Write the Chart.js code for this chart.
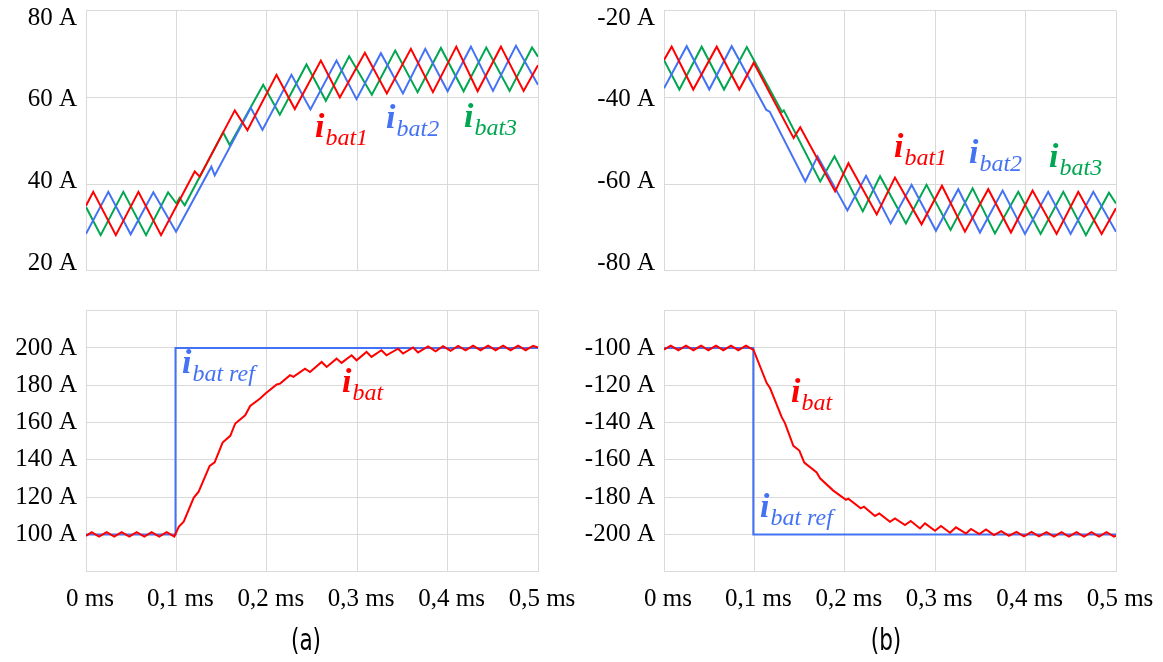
<!DOCTYPE html>
<html>
<head>
<meta charset="utf-8">
<script src="https://cdn.jsdelivr.net/npm/chart.js@4.4.1/dist/chart.umd.min.js"></script>
<style>
  html, body { margin: 0; padding: 0; background: #fff; }
  #wrap { position: relative; width: 1163px; height: 662px; overflow: hidden; }
  #wrap canvas { position: absolute; }
  .cap {
    position: absolute; top: 620px; width: 80px; text-align: center;
    font-family: "Liberation Sans Narrow", "DejaVu Sans Condensed", "Liberation Sans", sans-serif;
    font-size: 30px; line-height: 40px; color: #000; transform: scaleX(0.8);
  }
</style>
</head>
<body>
<div id="wrap">
  <canvas id="cA1" width="582" height="290" style="left:0;top:0"></canvas>
  <canvas id="cB1" width="595" height="290" style="left:568px;top:0"></canvas>
  <canvas id="cA2" width="582" height="340" style="left:0;top:290px"></canvas>
  <canvas id="cB2" width="595" height="340" style="left:568px;top:290px"></canvas>
  <div class="cap" style="left:266px">(a)</div>
  <div class="cap" style="left:846px">(b)</div>
</div>
<script>
const RED = '#ff0000';
const BLUE = '#4472f4';
const GREEN = '#00a650';
const GRID = '#d9d9d9';

// time axis (ms)
const timeTicks = [0, 0.1, 0.2, 0.3, 0.4, 0.5];

// (a) top: phase currents, A
const aRedT = [0, 0.008, 0.033, 0.058, 0.083, 0.1203, 0.1258, 0.1646, 0.1786, 0.2107, 0.231, 0.2598, 0.2808, 0.3085, 0.3328, 0.3594, 0.3838, 0.4096, 0.4332, 0.459, 0.4841, 0.5];
const aRedY = [35.0, 38.2, 28.2, 38.2, 28.2, 42.9, 41.7, 57.0, 52.4, 65.2, 57.3, 68.5, 60.0, 70.3, 60.9, 71.2, 61.2, 71.7, 61.4, 71.7, 61.5, 67.4];
const aBlueT = [0, 0.0247, 0.0494, 0.0745, 0.0996, 0.1387, 0.1424, 0.1823, 0.1952, 0.2273, 0.2483, 0.2771, 0.2993, 0.3262, 0.3506, 0.3753, 0.4, 0.4258, 0.4502, 0.4756, 0.5];
const aBlueY = [28.5, 38.2, 28.4, 38.1, 29.0, 44.0, 42.0, 57.6, 52.5, 65.2, 57.2, 68.5, 59.6, 70.2, 60.9, 71.2, 61.4, 71.7, 61.5, 71.9, 62.9];
const aGreenT = [0, 0.0162, 0.0413, 0.0664, 0.0908, 0.1, 0.1035, 0.1092, 0.1517, 0.159, 0.196, 0.2144, 0.2439, 0.2653, 0.2911, 0.3162, 0.3421, 0.3668, 0.3926, 0.4177, 0.4428, 0.4686, 0.4934, 0.5];
const aGreenY = [34.7, 28.2, 38.2, 28.2, 38.1, 35.5, 36.8, 35.1, 51.9, 49.0, 62.9, 56.0, 67.6, 59.2, 69.5, 60.6, 70.8, 61.2, 71.4, 61.4, 71.5, 61.5, 71.5, 69.4];
const aTopTicks = [20, 40, 60, 80];

// (b) top: phase currents, A
const bRedT = [0, 0.0085, 0.0324, 0.0583, 0.0833, 0.0993, 0.1434, 0.1507, 0.1893, 0.204, 0.2353, 0.2555, 0.2849, 0.3075, 0.3329, 0.3587, 0.3838, 0.4077, 0.4343, 0.4583, 0.4841, 0.5];
const bRedY = [-31.4, -28.3, -38.2, -28.3, -38.2, -32.0, -49.4, -46.9, -61.7, -55.2, -67.0, -58.5, -69.3, -60.4, -71.0, -61.2, -71.2, -61.5, -71.5, -61.8, -71.5, -65.6];
const bBlueT = [0, 0.0251, 0.0501, 0.0749, 0.1132, 0.1169, 0.1563, 0.1699, 0.2029, 0.2235, 0.2507, 0.2739, 0.3008, 0.3255, 0.3495, 0.3746, 0.3993, 0.425, 0.4498, 0.4749, 0.5];
const bBlueY = [-37.9, -28.2, -38.2, -28.2, -42.9, -43.3, -59.4, -53.6, -66.1, -58.1, -69.1, -60.2, -70.8, -61.2, -71.2, -61.5, -71.5, -61.8, -71.5, -61.8, -71.0];
const bGreenT = [0, 0.017, 0.0417, 0.0664, 0.0916, 0.1305, 0.1325, 0.1728, 0.1886, 0.2199, 0.239, 0.2676, 0.2904, 0.317, 0.3414, 0.3661, 0.3919, 0.4166, 0.4417, 0.4667, 0.4922, 0.5];
const bGreenY = [-31.4, -38.2, -28.3, -38.2, -28.4, -43.4, -43.0, -59.4, -53.6, -66.3, -58.2, -69.1, -60.2, -70.6, -61.0, -71.4, -61.8, -71.5, -61.8, -71.8, -62.0, -64.5];
const bTopTicks = [-80, -60, -40, -20];

// (a) bottom: total current and reference, A
const aBatT = [0, 0.0063, 0.0144, 0.0228, 0.0313, 0.0394, 0.0479, 0.056, 0.0645, 0.0726, 0.081, 0.0892, 0.0977,
  0.1026, 0.1081, 0.1191, 0.1246, 0.1368, 0.1423, 0.1511, 0.1596, 0.1651, 0.1761, 0.1816, 0.1926, 0.1982,
  0.211, 0.2147, 0.2257, 0.2294, 0.2423, 0.2478, 0.2607, 0.2662, 0.2772, 0.2827, 0.2938, 0.2993, 0.3103, 0.3158,
  0.3268, 0.3324, 0.3452, 0.3507, 0.3618, 0.3673, 0.3784, 0.3867, 0.395, 0.4033, 0.4116, 0.4199, 0.4282, 0.4365,
  0.4448, 0.4531, 0.4614, 0.4697, 0.478, 0.4863, 0.4946, 0.5];
const aBatY = [99.2, 101.2, 98.8, 101.2, 98.8, 101.2, 98.8, 101.2, 98.8, 101.2, 98.8, 101.2, 98.8,
  104.1, 106.8, 119.6, 122.9, 136.8, 138.6, 149.3, 152.9, 159.5, 163.9, 168.9, 172.9, 175.5,
  180.4, 180.9, 185.4, 184.5, 188.9, 187.1, 192.5, 189.8, 194.3, 192.0, 196.1, 193.4, 197.9, 195.2,
  198.8, 196.1, 199.6, 197.0, 200.3, 197.6, 200.8, 198.2, 201.0, 198.5, 201.1, 198.7, 201.2, 198.8,
  201.2, 198.8, 201.2, 198.8, 201.2, 198.8, 201.2, 200.2];
const aRefT = [0, 0.099, 0.099, 0.5];
const aRefY = [100, 100, 200, 200];
const aBotTicks = [100, 120, 140, 160, 180, 200];

// (b) bottom: total current and reference, A
const bBatT = [0, 0.0074, 0.0159, 0.0243, 0.0325, 0.041, 0.0491, 0.0575, 0.0656, 0.0741, 0.0822, 0.0907, 0.099,
  0.1136, 0.1173, 0.1302, 0.1338, 0.1431, 0.1497, 0.1552, 0.1689, 0.1726, 0.1873, 0.2013, 0.2039, 0.2176, 0.2212,
  0.2334, 0.2382, 0.25, 0.2555, 0.2666, 0.2729, 0.2832, 0.2887, 0.2998, 0.3064, 0.3164, 0.323, 0.3341, 0.3396,
  0.3488, 0.3562, 0.365, 0.373, 0.3816, 0.3899, 0.3982, 0.4065, 0.4148, 0.4231, 0.4314, 0.4397, 0.448, 0.4563,
  0.4646, 0.4729, 0.4812, 0.4895, 0.4978, 0.5];
const bBatY = [-100.9, -98.8, -101.2, -98.8, -101.2, -98.8, -101.2, -98.8, -101.2, -98.8, -101.2, -98.8, -101.0,
  -118.8, -121.5, -137.1, -140.3, -152.5, -155.0, -161.5, -166.8, -169.9, -176.5, -181.5, -180.8, -186.0, -185.1,
  -190.1, -188.7, -193.2, -191.4, -195.0, -192.8, -196.8, -194.1, -198.0, -195.5, -199.1, -196.2, -199.5, -197.1,
  -199.8, -197.3, -200.4, -198.2, -200.8, -198.6, -201.0, -198.7, -201.1, -198.8, -201.2, -198.8, -201.2, -198.8,
  -201.2, -198.8, -201.2, -198.8, -201.2, -200.6];
const bRefT = [0, 0.0988, 0.0988, 0.5];
const bRefY = [-100, -100, -200, -200];
const bBotTicks = [-200, -180, -160, -140, -120, -100];

// curve labels (anchor = left edge / baseline of the "i", in data units)
const labelsA1 = [
  { sub: 'bat1', color: RED, t: 0.2533, v: 50.9 },
  { sub: 'bat2', color: BLUE, t: 0.3319, v: 52.9 },
  { sub: 'bat3', color: GREEN, t: 0.4181, v: 53.2 }
];
const labelsB1 = [
  { sub: 'bat1', color: RED, t: 0.2544, v: -53.8 },
  { sub: 'bat2', color: BLUE, t: 0.3374, v: -55.1 },
  { sub: 'bat3', color: GREEN, t: 0.4259, v: -56.1 }
];
const labelsA2 = [
  { sub: 'bat ref', color: BLUE, t: 0.1062, v: 186.7 },
  { sub: 'bat', color: RED, t: 0.2832, v: 176.5 }
];
const labelsB2 = [
  { sub: 'bat', color: RED, t: 0.1405, v: -128.9 },
  { sub: 'bat ref', color: BLUE, t: 0.1062, v: -190.7 }
];

function series(ts, ys, color){
  return {
    data: ts.map((t, i) => ({ x: t, y: ys[i] })),
    yAxisID: 'y',
    borderColor: color,
    borderWidth: 2,
    pointRadius: 0,
    fill: false,
    tension: 0
  };
}

function labelPlugin(list){
  return {
    id: 'curveLabels',
    afterDatasetsDraw(chart){
      const ctx = chart.ctx;
      const xs = chart.scales.x, ys = chart.scales.y;
      ctx.save();
      ctx.textBaseline = 'alphabetic';
      ctx.textAlign = 'left';
      list.forEach(l => {
        const x = xs.getPixelForValue(l.t);
        const y = ys.getPixelForValue(l.v);
        ctx.fillStyle = l.color;
        ctx.font = 'italic bold 34px "Liberation Serif"';
        ctx.fillText('i', x, y);
        const w = ctx.measureText('i').width;
        ctx.font = 'italic 24px "Liberation Serif"';
        ctx.fillText(l.sub, x + w + 1, y + 8);
      });
      ctx.restore();
    }
  };
}

const tickFont = { family: 'Liberation Serif', size: 25 };

function panel(id, cfg){
  const scales = {
    x: {
      type: 'linear', min: 0, max: 0.5,
      afterBuildTicks: s => { s.ticks = timeTicks.map(v => ({ value: v })); },
      grid: { color: GRID, drawTicks: false },
      border: { color: GRID },
      ticks: {
        display: cfg.showX,
        padding: 13,
        labelOffset: 4,
        color: '#000',
        font: tickFont,
        maxRotation: 0,
        callback: v => v === 0 ? '0 ms' : v.toFixed(1).replace('.', ',') + ' ms'
      },
      afterFit: s => { s.height = cfg.xHeight; s.paddingLeft = 0; s.paddingRight = 0; }
    },
    y: {
      min: cfg.yMin, max: cfg.yMax, weight: 0,
      afterBuildTicks: s => {
        const t = [];
        for (let v = cfg.yMin; v <= cfg.yMax; v += 20) t.push({ value: v });
        s.ticks = t;
      },
      grid: { color: GRID, drawTicks: false },
      border: { color: GRID },
      ticks: {
        display: !cfg.labelRange,
        padding: 9,
        color: '#000',
        font: tickFont,
        callback: v => cfg.yTicks.includes(v) ? v + ' A' : ''
      },
      afterFit: s => {
        s.width = cfg.labelRange ? 0 : cfg.yWidth;
        s.paddingTop = 0; s.paddingBottom = 0;
      }
    }
  };
  if (cfg.labelRange) {
    // tick labels of the top panels sit on a slightly tighter spacing than the grid
    scales.yl = {
      type: 'linear', position: 'left', weight: 1,
      min: cfg.labelRange[0], max: cfg.labelRange[1],
      afterBuildTicks: s => { s.ticks = cfg.yTicks.map(v => ({ value: v })); },
      grid: { display: false, drawTicks: false },
      border: { display: false },
      ticks: { padding: 9, color: '#000', font: tickFont, callback: v => v + ' A' },
      afterFit: s => { s.width = cfg.yWidth; s.paddingTop = 0; s.paddingBottom = 0; }
    };
  }
  return new Chart(document.getElementById(id), {
    type: 'line',
    data: { datasets: cfg.datasets },
    options: {
      responsive: false,
      animation: false,
      devicePixelRatio: 1,
      layout: { padding: { top: cfg.padTop, right: cfg.padRight, left: 0, bottom: 0 } },
      plugins: { legend: { display: false }, tooltip: { enabled: false } },
      scales
    },
    plugins: [labelPlugin(cfg.labels)]
  });
}

panel('cA1', {
  datasets: [series(aRedT, aRedY, RED), series(aBlueT, aBlueY, BLUE), series(aGreenT, aGreenY, GREEN)],
  yMin: 20, yMax: 80, yTicks: aTopTicks, labels: labelsA1, labelRange: [18.11, 81.79],
  padTop: 10.7, padRight: 44, yWidth: 86, xHeight: 19.3, showX: false
});
panel('cB1', {
  datasets: [series(bRedT, bRedY, RED), series(bBlueT, bBlueY, BLUE), series(bGreenT, bGreenY, GREEN)],
  yMin: -80, yMax: -20, yTicks: bTopTicks, labels: labelsB1, labelRange: [-81.89, -18.21],
  padTop: 10.7, padRight: 47, yWidth: 96, xHeight: 19.3, showX: false
});
panel('cA2', {
  datasets: [series(aBatT, aBatY, RED), series(aRefT, aRefY, BLUE)],
  yMin: 80, yMax: 220, yTicks: aBotTicks, labels: labelsA2,
  padTop: 20.7, padRight: 44, yWidth: 86, xHeight: 58.3, showX: true
});
panel('cB2', {
  datasets: [series(bBatT, bBatY, RED), series(bRefT, bRefY, BLUE)],
  yMin: -220, yMax: -80, yTicks: bBotTicks, labels: labelsB2,
  padTop: 20.7, padRight: 47, yWidth: 96, xHeight: 58.3, showX: true
});
</script>
</body>
</html>
